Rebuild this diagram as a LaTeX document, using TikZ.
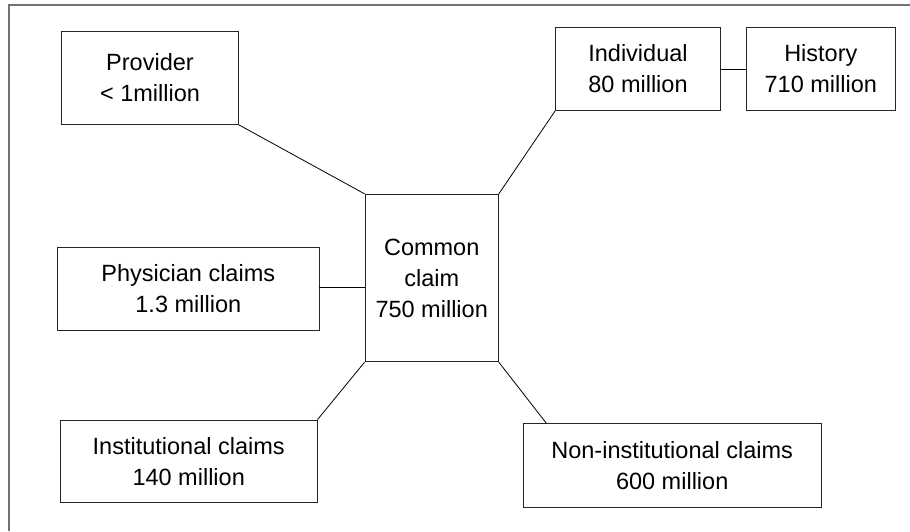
\documentclass[tikz,border=0pt]{standalone}
\usepackage{fontspec}
\setmainfont{Liberation Sans}
\usetikzlibrary{calc}
\begin{document}
\begin{tikzpicture}[x=1pt,y=-1pt,
  box/.style={draw=black!85, line width=0.9pt, inner sep=0pt, align=center,
    font=\fontsize{23.5}{31}\selectfont},
  link/.style={draw=black, line width=0.8pt},
  frame/.style={draw=black!55, line width=1.6pt}]
\useasboundingbox (0,0) rectangle (910,531);
% open frame: top and left edges only
\draw[frame] (910,5) -- (9,5) -- (9,531);

\node[box, minimum width=176.6pt, minimum height=93.3pt] (prov) at (150,77.7) {Provider\\< 1million};
\node[box, minimum width=133.3pt, minimum height=167.4pt] (common) at (431.7,278) {Common\\claim\\750 million};
\node[box, minimum width=164.6pt, minimum height=82.6pt] (indiv) at (638,69) {Individual\\80 million};
\node[box, minimum width=149.7pt, minimum height=82.6pt] (hist) at (820.8,69) {History\\710 million};
\node[box, minimum width=261.3pt, minimum height=82.3pt] (phys) at (188.3,288.8) {Physician claims\\1.3 million};
\node[box, minimum width=256.7pt, minimum height=82.3pt] (inst) at (188.7,461.2) {Institutional claims\\140 million};
\node[box, minimum width=297.7pt, minimum height=83.3pt] (noninst) at (672.2,465.3) {Non-institutional claims\\600 million};

\coordinate (physend) at ($(phys.east)+(0,-1.5)$);
\coordinate (nitop) at ($(noninst.north west)+(23.4,0)$);

\draw[link] (prov.south east) -- (common.north west);
\draw[link] (indiv.south west) -- (common.north east);
\draw[link] (indiv.east) -- (hist.west);
\draw[link] (physend) -- (physend -| common.west);
\draw[link] (inst.north east) -- (common.south west);
\draw[link] (common.south east) -- (nitop);
\end{tikzpicture}
\end{document}
